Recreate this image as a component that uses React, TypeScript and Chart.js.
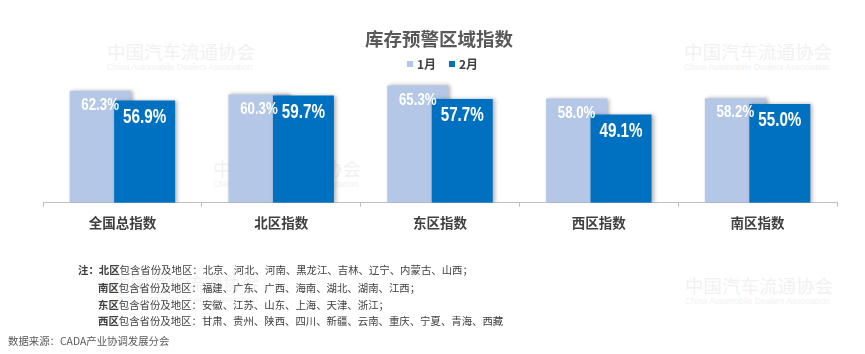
import React, { useEffect, useRef } from 'react';
import { Chart, registerables } from 'chart.js';

Chart.register(...registerables);

const categories = ['全国总指数', '北区指数', '东区指数', '西区指数', '南区指数'];
const seriesNames = ['1月', '2月'];
const janValues = [62.3, 60.3, 65.3, 58.0, 58.2];
const febValues = [56.9, 59.7, 57.7, 49.1, 55.0];
const yMin = 0;
const yMax = 70;

const titleText = '库存预警区域指数';
const noteLines = [
  { prefix: '注：', region: '北区', rest: '包含省份及地区：北京、河北、河南、黑龙江、吉林、辽宁、内蒙古、山西；' },
  { prefix: '', region: '南区', rest: '包含省份及地区：福建、广东、广西、海南、湖北、湖南、江西；' },
  { prefix: '', region: '东区', rest: '包含省份及地区：安徽、江苏、山东、上海、天津、浙江；' },
  { prefix: '', region: '西区', rest: '包含省份及地区：甘肃、贵州、陕西、四川、新疆、云南、重庆、宁夏、青海、西藏' },
];
const sourceText = '数据来源：CADA产业协调发展分会';
const watermarkCn = '中国汽车流通协会';
const watermarkEn = 'China Automobile Dealers Association';

const LIGHT = '#B4C7E7';
const DARK = '#0070C0';
const CJK = "'Noto Sans CJK SC', 'Noto Sans', sans-serif";
const LABEL_FONT = "'Liberation Sans', Arial, sans-serif";
const BAR_SHIFT = 0.14;

function Watermark({ x, y }: { x: number; y: number }) {
  return (
    <div style={{ position: 'absolute', left: x, top: y, color: '#f1f1f1', whiteSpace: 'nowrap' }}>
      <div style={{ fontFamily: "'Noto Sans CJK SC', serif", fontSize: 18.5, lineHeight: '22px', letterSpacing: 0 }}>{watermarkCn}</div>
      <div style={{ fontFamily: "'Liberation Sans', Arial, sans-serif", fontSize: 8.6, lineHeight: '10px' }}>{watermarkEn}</div>
    </div>
  );
}

export default function App() {
  const canvasRef = useRef<HTMLCanvasElement>(null);

  useEffect(() => {
    if (!canvasRef.current) return;

    const shadowPlugin = {
      id: 'barShadow',
      beforeDatasetDraw(chart: any) {
        const c = chart.ctx;
        c.save();
        c.shadowColor = 'rgba(0,0,0,0.30)';
        c.shadowBlur = 4;
        c.shadowOffsetX = 2;
        c.shadowOffsetY = 0;
      },
      afterDatasetDraw(chart: any) {
        chart.ctx.restore();
      },
    };

    const labelPlugin = {
      id: 'barLabels',
      afterDatasetsDraw(chart: any) {
        const c = chart.ctx;
        chart.data.datasets.forEach((ds: any, di: number) => {
          const meta = chart.getDatasetMeta(di);
          const size = di === 0 ? 17 : 19.5;
          const dy = di === 0 ? 14.5 : 16.7;
          meta.data.forEach((el: any, i: number) => {
            const v = ds.data[i].y as number;
            c.save();
            c.fillStyle = '#ffffff';
            c.textAlign = 'center';
            c.textBaseline = 'middle';
            c.font = `bold ${size}px ${LABEL_FONT}`;
            c.translate(el.x, el.y + dy);
            c.scale(0.78, 1);
            c.fillText(v.toFixed(1) + '%', 0, 0);
            c.restore();
          });
        });
      },
    };

    const chart = new Chart(canvasRef.current, {
      type: 'bar',
      data: {
        labels: categories,
        datasets: [
          {
            label: seriesNames[0],
            data: janValues.map((v, i) => ({ x: i - BAR_SHIFT, y: v })),
            backgroundColor: LIGHT,
            xAxisID: 'xb',
            yAxisID: 'y',
            order: 1,
            grouped: false,
            barPercentage: 2,
            categoryPercentage: 1,
            maxBarThickness: 61,
            borderWidth: 0,
          },
          {
            label: seriesNames[1],
            data: febValues.map((v, i) => ({ x: i + BAR_SHIFT, y: v })),
            backgroundColor: DARK,
            xAxisID: 'xb',
            yAxisID: 'y',
            order: 0,
            grouped: false,
            barPercentage: 2,
            categoryPercentage: 1,
            maxBarThickness: 61,
            borderWidth: 0,
          },
        ] as any,
      },
      options: {
        responsive: false,
        animation: false,
        devicePixelRatio: 1,
        layout: { padding: { left: 43, right: 28, top: 77, bottom: 115 } },
        plugins: {
          legend: { display: false },
          tooltip: { enabled: false },
          title: { display: false },
        },
        scales: {
          x: {
            type: 'category',
            labels: categories,
            offset: true,
            position: 'bottom',
            grid: {
              display: true,
              offset: true,
              drawOnChartArea: false,
              drawTicks: true,
              tickLength: 4,
              color: '#bfbfbf',
            },
            border: { display: true, color: '#bfbfbf', width: 1 },
            ticks: {
              padding: 8,
              color: '#404040',
              font: { family: CJK, size: 13.5, weight: 'bold' },
              maxRotation: 0,
              autoSkip: false,
            },
          },
          xb: {
            type: 'linear',
            display: false,
            offset: false,
            min: -0.5,
            max: categories.length - 0.5,
            grid: { display: false },
          },
          y: {
            type: 'linear',
            display: false,
            min: yMin,
            max: yMax,
            grid: { display: false },
          },
        } as any,
      },
      plugins: [shadowPlugin, labelPlugin],
    });

    return () => chart.destroy();
  }, []);

  return (
    <div style={{ position: 'absolute', left: 0, top: 0, width: 865, height: 354, background: '#ffffff', overflow: 'hidden' }}>
      <Watermark x={107} y={40} />
      <Watermark x={684} y={40} />
      <Watermark x={213} y={157} />
      <Watermark x={112} y={272} />
      <Watermark x={685} y={274} />

      <canvas ref={canvasRef} width={865} height={354} style={{ position: 'absolute', left: 0, top: 0, width: 865, height: 354 }} />

      <div style={{ position: 'absolute', left: 339, top: 27, width: 200, textAlign: 'center', fontFamily: CJK, fontSize: 18.5, fontWeight: 'bold', color: '#595959', lineHeight: '22px', whiteSpace: 'nowrap' }}>
        {titleText}
      </div>

      <div style={{ position: 'absolute', left: 0, top: 56, height: 16, width: 865 }}>
        {seriesNames.map((name, i) => (
          <div key={name} style={{ position: 'absolute', left: i === 0 ? 407 : 449, top: 0, height: 16, display: 'flex', alignItems: 'center', whiteSpace: 'nowrap' }}>
            <span style={{ display: 'inline-block', width: 6, height: 6, background: i === 0 ? LIGHT : DARK, marginRight: 4 }} />
            <span style={{ fontFamily: CJK, fontSize: 12, fontWeight: 'bold', color: '#404040', lineHeight: '16px' }}>{name}</span>
          </div>
        ))}
      </div>

      {noteLines.map((ln, i) => (
        <div key={i} style={{ position: 'absolute', left: i === 0 ? 78 : 98, top: [269, 287, 304, 320][i] - 8.5, fontFamily: CJK, fontSize: 10.4, lineHeight: '17px', color: '#404040', whiteSpace: 'nowrap' }}>
          {ln.prefix ? <b>{ln.prefix}</b> : null}
          <b>{ln.region}</b>
          {ln.rest}
        </div>
      ))}

      <div style={{ position: 'absolute', left: 8, top: 340 - 8.5, fontFamily: CJK, fontSize: 10.4, lineHeight: '17px', color: '#595959', whiteSpace: 'nowrap' }}>
        {sourceText}
      </div>
    </div>
  );
}
